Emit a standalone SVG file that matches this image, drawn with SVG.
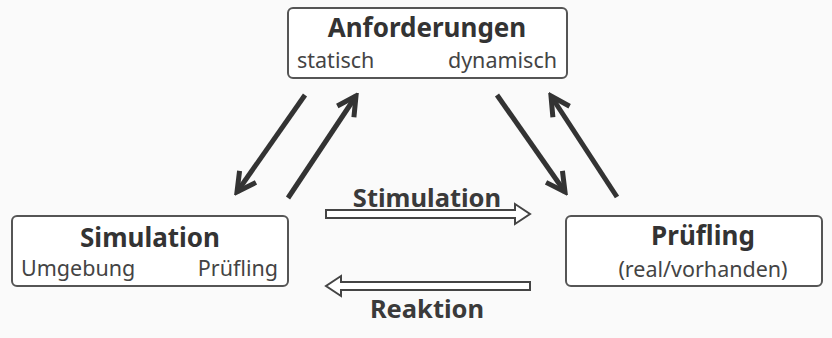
<svg xmlns="http://www.w3.org/2000/svg" width="832" height="338" viewBox="0 0 832 338">
  <defs>
    <style>
      .box { fill: #ffffff; stroke: #555555; stroke-width: 2; }
      .title { font-family: "Noto Sans", "DejaVu Sans", sans-serif; font-weight: bold; font-size: 26px; fill: #333333; }
      .sub { font-family: "Noto Sans", "DejaVu Sans", sans-serif; font-size: 21.5px; fill: #444444; }
      .lbl { font-family: "Noto Sans", "DejaVu Sans", sans-serif; font-weight: bold; font-size: 25.5px; fill: #3a3a3a; }
      .diag { stroke: #333333; stroke-width: 5; fill: none; }
      .hollow { fill: #ffffff; stroke: #444444; stroke-width: 2; stroke-linejoin: miter; }
    </style>
    <marker id="chev" viewBox="0 0 20 20" refX="17" refY="10" markerWidth="5" markerHeight="5" markerUnits="strokeWidth" orient="auto">
      <path d="M2,2 L17,10 L2,18" fill="none" stroke="#333333" stroke-width="4"/>
    </marker>
  </defs>
  <rect width="832" height="338" fill="#fafafa"/>

  <g id="anforderungen">
    <rect class="box" x="288" y="8" width="279" height="70" rx="5"/>
    <text class="title" x="427" y="37" text-anchor="middle">Anforderungen</text>
    <text class="sub" x="297" y="68">statisch</text>
    <text class="sub" x="557" y="68" text-anchor="end">dynamisch</text>
  </g>

  <g id="simulation">
    <rect class="box" x="12" y="216" width="276" height="70" rx="5"/>
    <text class="title" x="150" y="247" text-anchor="middle">Simulation</text>
    <text class="sub" x="21" y="276">Umgebung</text>
    <text class="sub" x="278" y="276" text-anchor="end">Prüfling</text>
  </g>

  <g id="pruefling">
    <rect class="box" x="566" y="216" width="256" height="70" rx="5"/>
    <text class="title" x="703" y="245" text-anchor="middle">Prüfling</text>
    <text class="sub" x="703" y="277" text-anchor="middle">(real/vorhanden)</text>
  </g>

  <g id="connectors">
    <line class="diag" x1="305" y1="95" x2="237" y2="192" marker-end="url(#chev)"/>
    <line class="diag" x1="288" y1="198" x2="356" y2="96" marker-end="url(#chev)"/>
    <line class="diag" x1="497" y1="95" x2="565" y2="192" marker-end="url(#chev)"/>
    <line class="diag" x1="617" y1="197" x2="551" y2="96" marker-end="url(#chev)"/>

    <path class="hollow" d="M326,210 L515,210 L515,204 L530,214 L515,224 L515,218 L326,218 Z"/>
    <text class="lbl" x="427" y="207" text-anchor="middle">Stimulation</text>

    <path class="hollow" d="M530,282 L341,282 L341,276 L326,286 L341,296 L341,290 L530,290 Z"/>
    <text class="lbl" x="427" y="318" text-anchor="middle">Reaktion</text>
  </g>
</svg>
